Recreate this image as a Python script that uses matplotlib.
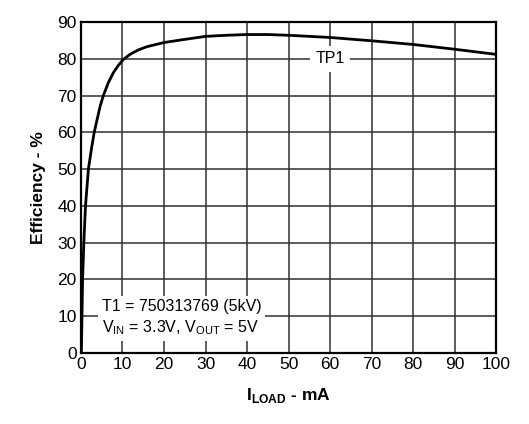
import matplotlib
matplotlib.use("Agg")
import matplotlib.pyplot as plt

plt.rcParams["font.family"] = ["Liberation Sans", "DejaVu Sans"]
plt.rcParams["mathtext.fontset"] = "custom"
plt.rcParams["mathtext.rm"] = "Liberation Sans"
plt.rcParams["mathtext.bf"] = "Liberation Sans:bold"

# Efficiency curve
load_ma = [0.1, 0.25, 0.4, 0.7, 1.1, 1.8, 2.6, 3.2, 3.8, 4.6, 5.4, 6.6, 7.8,
           9.0, 10.2, 11.8, 13.8, 15.9, 19.9, 23.9, 30, 35, 40, 45, 50,
           60, 70, 80, 90, 100]
efficiency = [0, 10, 20, 30, 40, 50, 56, 60, 63, 67, 70, 73.5, 76.2,
              78.2, 79.8, 81.2, 82.4, 83.3, 84.4, 85.1, 86.1, 86.4, 86.6, 86.6, 86.4,
              85.8, 84.9, 83.9, 82.6, 81.2]

x_ticks = list(range(0, 101, 10))
y_ticks = list(range(0, 91, 10))

fig = plt.figure(figsize=(5.29, 4.24), dpi=100)
ax = fig.add_axes([0.153, 0.168, 0.785, 0.780])

ax.plot(load_ma, efficiency, color="black", lw=2, zorder=3)

ax.set_xlim(0, 100)
ax.set_ylim(0, 90)
ax.set_xticks(x_ticks)
ax.set_yticks(y_ticks)
ax.grid(True, color="#303030", lw=1.1)
ax.tick_params(length=0, labelsize=12.5, pad=3)
for s in ax.spines.values():
    s.set_linewidth(1.6)

ax.set_ylabel("Efficiency - %", fontsize=12.5, fontweight="bold", labelpad=8)
ax.set_xlabel(r"I$_\mathbf{LOAD}$ - mA", fontsize=12.5, fontweight="bold", labelpad=10)

# curve label
ax.text(60, 80, "TP1", fontsize=11.5, ha="center", va="center", zorder=4,
        bbox=dict(facecolor="white", edgecolor="none", pad=4))

# conditions box
ax.text(5, 9.5, "T1 = 750313769 (5kV)\n"
        r"V$_\mathregular{IN}$ = 3.3V, V$_\mathregular{OUT}$ = 5V",
        fontsize=11.5, ha="left", va="center", linespacing=1.3, zorder=4,
        bbox=dict(facecolor="white", edgecolor="none", pad=3))

fig.savefig("out.png", dpi=100)
